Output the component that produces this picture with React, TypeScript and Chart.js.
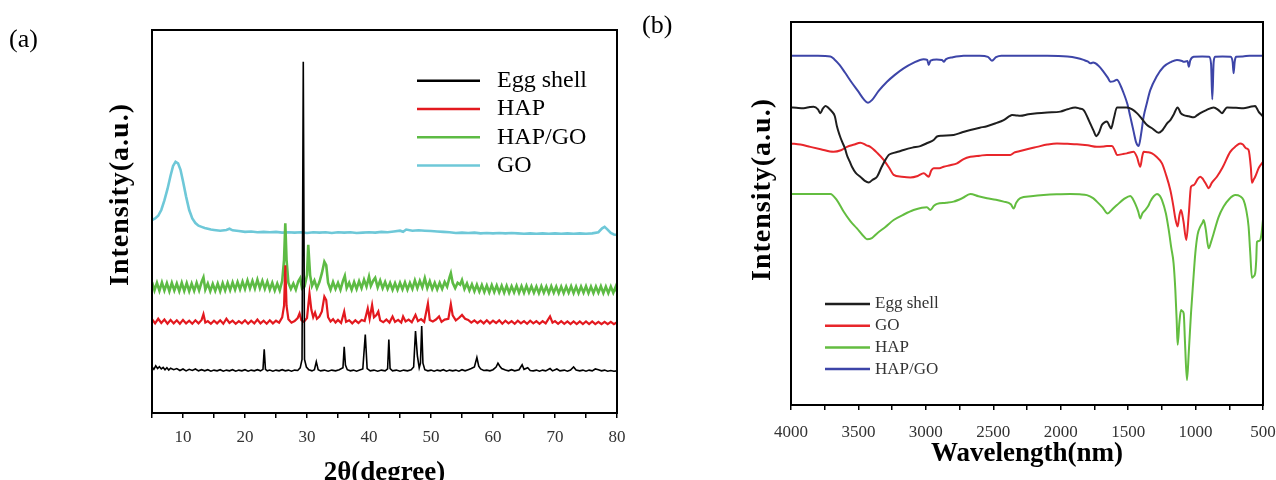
import React, { useEffect, useRef } from 'react';
import { Chart, registerables } from 'chart.js';

Chart.register(...registerables);

type Pt = [number, number];

const SERIF = '"Liberation Serif", "Times New Roman", serif';

// ---------- (a) XRD ----------
const xrdLabels = ['Egg shell', 'HAP', 'HAP/GO', 'GO'];
const xrdColors = ['#000000', '#e3191f', '#5dbb44', '#6ec8d8'];
const xrdTicks = [10, 20, 30, 40, 50, 60, 70, 80];

const xrdEggShell: Pt[] = [
  [5, 12.0], [5.3, 11.4], [5.6, 12.3], [5.9, 11.6], [6.2, 12.1], [6.5, 11.5], [6.8, 11.9], [7.1, 11.3], [7.4, 11.8], [7.7, 11.2],
  [8, 11.7], [8.5, 11.3], [9, 11.6], [9.5, 11.1], [10, 11.5], [10.5, 11.0], [11, 11.4], [11.5, 11.1], [12, 11.5], [12.5, 11.0],
  [13, 11.3], [13.5, 11.0], [14, 11.3], [14.5, 10.9], [15, 11.2], [15.5, 11.0], [16, 11.3], [16.5, 10.9], [17, 11.2], [17.5, 11.0],
  [18, 11.3], [18.5, 10.9], [19, 11.2], [19.5, 11.0], [20, 11.3], [20.5, 10.9], [21, 11.2], [21.5, 11.0], [22, 11.3], [22.5, 11.0],
  [22.9, 11.4], [23.1, 16.6], [23.3, 11.4], [23.6, 11.0], [24, 11.2], [24.5, 10.9], [25, 11.2], [25.5, 11.0], [26, 11.3], [26.5, 11.0],
  [27, 11.2], [27.5, 10.9], [28, 11.2], [28.5, 11.1], [28.9, 11.8], [29.2, 14.0], [29.4, 91.7], [29.6, 14.0], [29.9, 12.0], [30.3, 11.3],
  [30.8, 11.0], [31.2, 11.3], [31.5, 13.4], [31.8, 11.3], [32.2, 11.0], [32.8, 11.2], [33.4, 10.9], [34, 11.2], [34.6, 11.0], [35.2, 11.3],
  [35.8, 11.8], [36.0, 17.3], [36.2, 12.5], [36.5, 11.3], [37, 11.0], [37.5, 11.2], [38, 10.9], [38.5, 11.2], [39.0, 11.5], [39.4, 20.5],
  [39.7, 11.6], [40.2, 11.0], [40.8, 11.2], [41.4, 10.9], [42, 11.2], [42.6, 11.0], [43.0, 11.5], [43.2, 19.2], [43.4, 11.6], [43.8, 11.0],
  [44.4, 11.2], [45, 10.9], [45.6, 11.2], [46.2, 11.0], [46.8, 11.3], [47.2, 12.0], [47.5, 21.4], [47.8, 15.0], [48.1, 11.8], [48.3, 13.0],
  [48.5, 22.7], [48.7, 13.0], [49, 11.3], [49.5, 11.0], [50, 11.2], [50.5, 10.9], [51, 11.2], [51.5, 11.0], [52, 11.3], [52.5, 10.9],
  [53, 11.2], [53.5, 11.0], [54, 11.2], [54.5, 10.9], [55, 11.3], [55.5, 11.0], [56, 11.3], [56.5, 11.6], [57, 12.0], [57.4, 14.5],
  [57.7, 12.2], [58, 11.5], [58.5, 11.1], [59, 11.2], [59.5, 11.0], [60, 11.3], [60.5, 12.0], [60.8, 13.0], [61.1, 12.2], [61.4, 11.6],
  [62, 11.2], [62.5, 11.0], [63, 11.3], [63.5, 11.0], [64.2, 11.3], [64.7, 12.6], [65.0, 11.4], [65.6, 11.8], [66, 11.1], [66.5, 11.0],
  [67, 11.2], [67.5, 10.9], [68, 11.2], [68.5, 11.0], [69.2, 11.6], [69.6, 11.0], [70.3, 11.5], [70.8, 11.0], [71.5, 11.2], [72, 10.9],
  [72.5, 11.2], [73, 12.0], [73.4, 11.2], [74, 11.0], [74.5, 11.2], [75, 10.9], [75.5, 11.2], [76, 11.0], [76.5, 11.5], [77, 11.3],
  [77.5, 11.0], [78, 11.2], [78.5, 10.9], [79, 11.1], [79.5, 10.9], [80, 11.0],
];

const xrdHAP: Pt[] = [
  [5, 24.5], [5.5, 23.4], [6, 24.6], [6.5, 23.5], [7, 24.4], [7.5, 23.3], [8, 24.3], [8.5, 23.4], [9, 24.2], [9.5, 23.3],
  [10, 24.3], [10.5, 23.4], [11, 24.1], [11.5, 23.3], [12, 24.2], [12.5, 23.4], [13, 24.3], [13.3, 25.8], [13.6, 23.6], [14, 24.0],
  [14.5, 23.3], [15, 24.1], [15.5, 23.4], [16, 24.2], [16.5, 23.3], [17, 24.6], [17.5, 23.5], [18, 24.1], [18.5, 23.3], [19, 24.0],
  [19.5, 23.4], [20, 24.2], [20.5, 23.3], [21, 24.1], [21.5, 23.4], [22, 24.4], [22.5, 23.4], [23, 24.1], [23.5, 23.3], [24, 24.2],
  [24.5, 23.4], [25, 24.1], [25.5, 23.6], [26.0, 25.0], [26.3, 28.0], [26.5, 38.6], [26.7, 28.0], [27, 24.5], [27.5, 23.6], [28, 24.0],
  [28.5, 24.8], [28.8, 26.0], [29.1, 24.2], [29.5, 23.8], [30.0, 24.8], [30.4, 31.2], [30.7, 27.0], [31.0, 25.0], [31.3, 26.2], [31.6, 24.6],
  [32.0, 25.2], [32.4, 26.5], [32.8, 30.4], [33.1, 29.5], [33.4, 25.0], [33.8, 23.9], [34.2, 24.5], [34.6, 23.6], [35, 24.3], [35.5, 23.5],
  [36.0, 26.5], [36.3, 23.8], [36.8, 24.2], [37.3, 23.4], [37.8, 24.2], [38.3, 23.5], [38.8, 24.3], [39.3, 24.0], [39.8, 27.3], [40.1, 24.6],
  [40.5, 28.2], [40.8, 25.0], [41.2, 25.6], [41.5, 26.5], [41.8, 24.2], [42.3, 23.7], [42.8, 24.4], [43.3, 23.6], [43.8, 25.2], [44.2, 23.8],
  [44.7, 24.3], [45.2, 23.6], [45.5, 25.2], [45.9, 23.9], [46.4, 24.4], [46.9, 23.7], [47.5, 25.6], [47.9, 24.0], [48.4, 24.5], [48.9, 23.8],
  [49.5, 28.6], [49.8, 24.3], [50.3, 23.9], [50.8, 24.4], [51.3, 25.2], [51.7, 23.8], [52.2, 24.4], [52.8, 24.6], [53.2, 28.4], [53.5, 25.5],
  [54, 24.2], [54.5, 24.8], [55, 25.6], [55.5, 24.6], [56, 24.3], [56.5, 23.6], [57, 24.2], [57.5, 23.5], [58, 24.1], [58.5, 23.4],
  [59, 24.2], [59.5, 23.4], [60, 24.1], [60.5, 23.5], [61, 24.2], [61.5, 23.3], [62, 24.1], [62.5, 23.4], [63, 24.0], [63.5, 23.3],
  [64, 24.1], [64.5, 23.4], [65, 24.0], [65.5, 23.3], [66, 24.1], [66.5, 23.4], [67, 24.0], [67.5, 23.3], [68, 24.0], [68.5, 23.4],
  [69.2, 25.2], [69.6, 23.6], [70, 24.0], [70.5, 23.3], [71, 24.0], [71.5, 23.3], [72, 23.9], [72.5, 23.2], [73, 23.9], [73.5, 23.2],
  [74, 23.9], [74.5, 23.2], [75, 23.9], [75.5, 23.2], [76, 23.9], [76.5, 23.2], [77, 23.8], [77.5, 23.2], [78, 23.8], [78.5, 23.2],
  [79, 23.8], [79.5, 23.2], [80, 23.7],
];

const xrdHAPGO: Pt[] = [
  [5, 34.2], [5.4, 32.0], [5.8, 34.0], [6.2, 31.9], [6.6, 34.1], [7, 32.0], [7.4, 33.9], [7.8, 31.8], [8.2, 34.0], [8.6, 32.0],
  [9, 33.8], [9.4, 31.8], [9.8, 34.0], [10.2, 31.9], [10.6, 33.9], [11, 31.8], [11.4, 33.8], [11.8, 31.9], [12.2, 34.0], [12.6, 32.0],
  [13.0, 34.2], [13.3, 35.4], [13.6, 32.2], [14, 33.8], [14.4, 31.8], [14.8, 33.7], [15.2, 31.9], [15.6, 33.8], [16, 31.8], [16.4, 33.9],
  [16.8, 32.0], [17.2, 34.0], [17.6, 32.1], [18, 34.1], [18.4, 32.2], [18.8, 34.2], [19.2, 32.3], [19.6, 34.3], [20, 32.4], [20.4, 34.6],
  [20.8, 32.5], [21.2, 34.5], [21.6, 32.5], [22, 34.8], [22.4, 32.6], [22.8, 34.5], [23.2, 32.4], [23.6, 34.3], [24, 32.2], [24.4, 34.0],
  [24.8, 32.0], [25.2, 33.8], [25.6, 32.0], [26.0, 34.5], [26.3, 40.0], [26.5, 49.5], [26.7, 40.0], [27.0, 34.0], [27.4, 32.4], [27.8, 33.8],
  [28.2, 32.2], [28.6, 34.4], [28.9, 35.2], [29.2, 32.5], [29.6, 33.0], [30.0, 36.0], [30.2, 43.9], [30.5, 36.0], [30.8, 33.2], [31.2, 34.6],
  [31.6, 32.6], [32.0, 34.2], [32.4, 36.5], [32.8, 39.5], [33.1, 38.6], [33.4, 34.0], [33.8, 32.2], [34.2, 34.2], [34.6, 32.4], [35, 34.0],
  [35.4, 32.2], [35.8, 34.5], [36.1, 35.8], [36.4, 32.6], [36.8, 34.0], [37.2, 32.2], [37.6, 34.2], [38, 32.4], [38.4, 34.4], [38.8, 32.6],
  [39.2, 34.8], [39.6, 33.0], [40.0, 35.6], [40.3, 33.2], [40.7, 34.6], [41.0, 35.3], [41.4, 32.8], [41.8, 34.6], [42.2, 32.6], [42.6, 34.2],
  [43, 32.4], [43.4, 34.0], [43.8, 32.2], [44.2, 33.9], [44.6, 32.2], [45, 34.0], [45.4, 32.3], [45.8, 34.1], [46.2, 32.2], [46.6, 34.0],
  [47, 32.4], [47.4, 34.6], [47.8, 32.6], [48.2, 34.5], [48.6, 32.8], [49.0, 35.2], [49.4, 32.6], [49.8, 34.4], [50.2, 32.4], [50.6, 34.0],
  [51, 32.3], [51.4, 34.0], [51.8, 32.4], [52.2, 34.2], [52.6, 33.0], [53.0, 35.5], [53.2, 36.5], [53.5, 34.0], [53.9, 32.6], [54.3, 34.0],
  [54.7, 33.5], [55.0, 34.7], [55.4, 32.4], [55.8, 33.8], [56.2, 32.0], [56.6, 33.6], [57, 31.8], [57.4, 33.5], [57.8, 31.7], [58.2, 33.4],
  [58.6, 31.6], [59, 33.3], [59.4, 31.5], [59.8, 33.4], [60.2, 31.6], [60.6, 33.3], [61, 31.5], [61.4, 33.2], [61.8, 31.4], [62.2, 33.2],
  [62.6, 31.4], [63, 33.1], [63.4, 31.5], [63.8, 33.2], [64.2, 31.4], [64.6, 33.1], [65, 31.4], [65.4, 33.2], [65.8, 31.5], [66.2, 33.1],
  [66.6, 31.4], [67, 33.0], [67.4, 31.3], [67.8, 33.1], [68.2, 31.4], [68.6, 33.0], [69, 31.3], [69.4, 33.1], [69.8, 31.4], [70.2, 33.0],
  [70.6, 31.3], [71, 33.0], [71.4, 31.3], [71.8, 33.0], [72.2, 31.4], [72.6, 33.1], [73, 31.3], [73.4, 33.0], [73.8, 31.3], [74.2, 33.0],
  [74.6, 31.4], [75, 33.1], [75.4, 31.3], [75.8, 33.0], [76.2, 31.3], [76.6, 33.0], [77, 31.4], [77.4, 33.1], [77.8, 31.3], [78.2, 33.0],
  [78.6, 31.3], [79, 33.0], [79.4, 31.4], [79.8, 33.0], [80, 31.6],
];

const xrdGO: Pt[] = [
  [5, 50.4], [5.5, 50.8], [6, 51.5], [6.5, 53.0], [7, 55.5], [7.5, 58.5], [8, 62.0], [8.4, 64.5], [8.8, 65.6], [9.2, 65.2],
  [9.6, 63.5], [10, 60.5], [10.5, 56.5], [11, 53.0], [11.5, 50.8], [12, 49.6], [12.5, 48.9], [13, 48.6], [13.5, 48.3], [14, 48.1],
  [14.5, 47.9], [15, 47.8], [16, 47.6], [17, 47.8], [17.5, 48.1], [18, 47.7], [19, 47.5], [20, 47.3], [21, 47.4], [22, 47.2],
  [23, 47.3], [24, 47.2], [25, 47.3], [26, 47.1], [27, 47.2], [28, 47.1], [29, 47.2], [30, 47.0], [31, 47.2], [32, 47.1],
  [33, 47.2], [34, 47.0], [35, 47.2], [36, 47.1], [37, 47.2], [38, 47.0], [39, 47.1], [40, 47.2], [41, 47.1], [42, 47.3],
  [43, 47.2], [44, 47.4], [45, 47.6], [45.5, 47.3], [46, 47.9], [47, 47.6], [48, 47.7], [49, 47.6], [50, 47.5], [51, 47.4],
  [52, 47.3], [53, 47.2], [54, 47.0], [55, 47.1], [56, 47.0], [57, 47.1], [58, 46.9], [59, 47.0], [60, 46.9], [61, 47.0],
  [62, 46.9], [63, 47.0], [64, 46.9], [65, 46.8], [66, 46.9], [67, 46.8], [68, 46.9], [69, 46.8], [70, 46.9], [71, 46.8],
  [72, 46.9], [73, 46.8], [74, 46.9], [75, 46.8], [76, 46.9], [77, 47.2], [77.6, 48.2], [78, 48.6], [78.4, 48.0], [79, 47.0],
  [79.5, 46.6], [80, 46.5],
];

// ---------- (b) FTIR ----------
const ftirLabels = ['Egg shell', 'GO', 'HAP', 'HAP/GO'];
const ftirColors = ['#1e1e1e', '#e8262b', '#63bd40', '#3d45a8'];
const ftirTicks = [4000, 3500, 3000, 2500, 2000, 1500, 1000, 500];

const ftirEggShell: Pt[] = [
  [4000, 77.7], [3960, 77.6], [3906, 77.5], [3860, 77.8], [3832, 77.9], [3800, 77.2], [3783, 76.2], [3765, 77.3], [3745, 78.1], [3720, 77.5],
  [3696, 76.6], [3675, 75.4], [3659, 72.7], [3640, 70.5], [3622, 68.8], [3600, 67.0], [3585, 65.2], [3565, 63.6], [3548, 62.2], [3520, 60.6],
  [3486, 59.6], [3455, 58.6], [3424, 58.1], [3395, 58.8], [3362, 59.6], [3330, 62.0], [3300, 64.0], [3275, 65.3], [3251, 65.7], [3200, 66.2],
  [3165, 66.6], [3100, 67.2], [3041, 67.6], [2990, 68.4], [2942, 69.2], [2917, 70.1], [2880, 70.3], [2794, 70.5], [2730, 71.2], [2670, 71.8],
  [2600, 72.4], [2547, 72.8], [2480, 73.6], [2423, 74.4], [2380, 75.4], [2361, 75.7], [2330, 75.6], [2300, 75.5], [2240, 75.9], [2176, 76.2],
  [2100, 76.4], [2003, 76.6], [1950, 77.2], [1892, 77.7], [1860, 77.4], [1830, 77.0], [1800, 75.0], [1781, 73.5], [1755, 71.5], [1737, 70.2],
  [1715, 71.2], [1695, 73.1], [1675, 73.8], [1657, 74.0], [1640, 73.0], [1627, 72.2], [1605, 75.0], [1583, 77.7], [1509, 77.7], [1470, 77.2],
  [1435, 76.2], [1400, 74.8], [1360, 73.1], [1320, 72.2], [1274, 71.1], [1250, 71.6], [1237, 72.2], [1210, 73.6], [1187, 74.4], [1160, 76.0],
  [1133, 77.7], [1110, 76.2], [1088, 75.7], [1050, 75.4], [1014, 75.1], [990, 75.6], [965, 76.2], [920, 77.0], [866, 77.7], [830, 77.0],
  [804, 76.2], [785, 77.0], [767, 77.7], [700, 77.6], [644, 77.5], [600, 77.8], [558, 78.1], [545, 77.4], [533, 76.6], [515, 75.9],
  [500, 75.3],
];

const ftirGO: Pt[] = [
  [4000, 68.3], [3930, 68.0], [3857, 67.4], [3780, 66.8], [3684, 66.1], [3630, 66.5], [3585, 67.4], [3530, 68.0], [3486, 68.5], [3440, 67.8],
  [3412, 67.4], [3360, 65.8], [3313, 64.0], [3270, 61.8], [3239, 60.1], [3180, 59.6], [3115, 59.4], [3060, 59.8], [3016, 60.5], [2979, 59.6],
  [2960, 61.2], [2942, 61.8], [2900, 61.8], [2868, 62.2], [2820, 62.6], [2769, 63.1], [2720, 64.2], [2670, 64.8], [2600, 65.1], [2547, 65.3],
  [2460, 65.3], [2374, 65.3], [2345, 65.9], [2324, 66.1], [2250, 66.8], [2176, 67.4], [2100, 68.0], [2028, 68.3], [1950, 68.2], [1880, 68.1],
  [1800, 67.8], [1732, 67.4], [1680, 67.5], [1657, 67.6], [1620, 67.6], [1600, 66.6], [1583, 65.3], [1540, 65.5], [1509, 65.7], [1480, 66.0],
  [1460, 66.1], [1435, 64.8], [1410, 62.2], [1395, 65.0], [1385, 66.1], [1355, 66.0], [1323, 65.7], [1290, 64.8], [1249, 63.1], [1220, 60.2],
  [1187, 56.1], [1165, 52.0], [1150, 48.7], [1133, 46.6], [1120, 49.5], [1108, 50.9], [1090, 48.0], [1069, 43.1], [1050, 50.0], [1034, 57.0],
  [1015, 57.4], [1002, 57.9], [985, 59.0], [965, 59.6], [950, 59.2], [940, 58.7], [920, 57.5], [903, 56.6], [880, 58.0], [842, 59.6],
  [800, 62.0], [743, 66.1], [700, 67.6], [670, 68.3], [649, 68.0], [625, 67.0], [607, 66.6], [590, 62.0], [582, 58.0], [570, 58.8],
  [558, 59.6], [530, 62.0], [500, 63.5],
];

const ftirHAP: Pt[] = [
  [4000, 55.1], [3900, 55.1], [3800, 55.1], [3708, 55.1], [3660, 53.5], [3610, 50.5], [3560, 48.0], [3511, 46.1], [3470, 44.4], [3437, 43.3],
  [3400, 43.6], [3362, 44.8], [3300, 46.5], [3239, 48.3], [3160, 49.8], [3091, 50.9], [3030, 51.5], [2992, 51.6], [2967, 50.9], [2940, 52.0],
  [2917, 52.5], [2850, 52.8], [2794, 53.1], [2730, 54.0], [2670, 55.1], [2610, 54.5], [2547, 54.0], [2480, 53.6], [2423, 53.1], [2370, 52.4],
  [2349, 51.3], [2330, 52.8], [2300, 54.0], [2220, 54.5], [2127, 54.8], [2030, 55.0], [1930, 55.1], [1860, 55.0], [1806, 54.8], [1760, 54.0],
  [1732, 53.1], [1690, 51.6], [1652, 50.0], [1620, 51.0], [1583, 52.2], [1530, 53.8], [1484, 54.6], [1465, 53.8], [1447, 52.5], [1425, 50.5],
  [1410, 48.7], [1395, 50.0], [1373, 50.9], [1350, 52.0], [1336, 53.1], [1310, 54.5], [1286, 55.1], [1265, 54.6], [1249, 53.5], [1220, 50.0],
  [1199, 45.7], [1180, 41.0], [1163, 37.0], [1150, 30.0], [1140, 22.0], [1133, 15.7], [1120, 21.5], [1108, 24.8], [1098, 24.5], [1088, 23.9],
  [1078, 16.0], [1064, 6.5], [1050, 14.0], [1034, 23.9], [1018, 32.0], [1002, 39.6], [985, 44.5], [965, 46.6], [950, 47.5], [940, 48.3],
  [925, 46.0], [903, 40.9], [885, 42.6], [866, 44.8], [830, 49.0], [792, 51.8], [750, 53.8], [705, 54.8], [670, 54.5], [644, 53.5],
  [625, 51.0], [607, 46.6], [595, 40.0], [582, 33.2], [570, 33.6], [558, 34.4], [550, 38.0], [545, 42.6], [530, 42.8], [520, 43.1],
  [510, 45.0], [500, 48.5],
];

const ftirHAPGO: Pt[] = [
  [4000, 91.2], [3900, 91.2], [3800, 91.2], [3708, 91.0], [3680, 90.3], [3640, 88.8], [3600, 86.8], [3550, 84.2], [3500, 81.8], [3460, 79.8],
  [3429, 78.9], [3400, 79.6], [3350, 82.0], [3288, 84.4], [3230, 86.2], [3165, 87.9], [3100, 89.2], [3016, 90.3], [2990, 90.1], [2979, 88.8],
  [2965, 89.9], [2920, 90.2], [2880, 90.1], [2868, 89.6], [2850, 90.3], [2800, 90.8], [2720, 91.2], [2600, 91.2], [2540, 90.9], [2510, 89.9],
  [2480, 90.8], [2440, 91.2], [2300, 91.2], [2100, 91.2], [1950, 91.0], [1880, 90.6], [1830, 90.1], [1800, 89.7], [1780, 89.2], [1760, 89.4],
  [1720, 88.6], [1682, 87.0], [1650, 85.4], [1632, 84.4], [1610, 84.5], [1583, 84.9], [1555, 83.3], [1533, 81.4], [1505, 78.5], [1484, 75.3],
  [1460, 71.5], [1440, 68.5], [1422, 67.6], [1405, 70.5], [1385, 75.3], [1360, 79.0], [1336, 82.2], [1290, 85.7], [1237, 88.3], [1180, 89.6],
  [1138, 90.1], [1100, 89.8], [1088, 89.6], [1060, 89.8], [1050, 88.3], [1040, 89.9], [1014, 90.9], [950, 91.0], [900, 90.9], [885, 89.0],
  [876, 79.8], [866, 89.5], [855, 90.9], [800, 91.0], [740, 90.9], [725, 89.5], [718, 86.6], [710, 89.6], [700, 90.9], [650, 91.0],
  [600, 91.2], [550, 91.2], [500, 91.2],
];

const toXY = (pts: Pt[]) => pts.map(([x, y]) => ({ x, y }));

interface DecorCfg {
  tag: { text: string; x: number; y: number; size: number };
  yTitle: { x: number; y: number; size: number; spacing: number };
  legend: { x0: number; x1: number; tx: number; y: number; dy: number; size: number; lw: number; color: string };
}

function decorPlugin(cfg: DecorCfg) {
  return {
    id: 'panelDecor',
    afterDatasetsDraw(chart: any) {
      const { ctx, chartArea: a } = chart;
      ctx.save();
      ctx.strokeStyle = '#000';
      ctx.lineWidth = 2;
      ctx.strokeRect(a.left, a.top, a.right - a.left, a.bottom - a.top);

      const L = cfg.legend;
      chart.data.datasets.forEach((ds: any, i: number) => {
        const y = L.y + i * L.dy;
        ctx.strokeStyle = ds.borderColor;
        ctx.lineWidth = L.lw;
        ctx.beginPath();
        ctx.moveTo(L.x0, y);
        ctx.lineTo(L.x1, y);
        ctx.stroke();
        ctx.fillStyle = L.color;
        ctx.font = `${L.size}px ${SERIF}`;
        ctx.textBaseline = 'middle';
        ctx.textAlign = 'left';
        ctx.fillText(ds.label, L.tx, y);
      });

      ctx.fillStyle = '#000';
      ctx.font = `${cfg.tag.size}px ${SERIF}`;
      ctx.textBaseline = 'alphabetic';
      ctx.textAlign = 'left';
      ctx.fillText(cfg.tag.text, cfg.tag.x, cfg.tag.y);

      ctx.translate(cfg.yTitle.x, cfg.yTitle.y);
      ctx.rotate(-Math.PI / 2);
      ctx.font = `bold ${cfg.yTitle.size}px ${SERIF}`;
      try { (ctx as any).letterSpacing = `${cfg.yTitle.spacing}px`; } catch (e) { /* ignore */ }
      ctx.textAlign = 'center';
      ctx.textBaseline = 'middle';
      ctx.fillText('Intensity(a.u.)', cfg.yTitle.spacing / 2, 0);
      ctx.restore();
    },
  };
}

function xAxis(opts: {
  min: number; max: number; step: number; reverse: boolean; labels: number[];
  height: number; tickPad: number; title: string; titlePad: number;
}) {
  return {
    type: 'linear' as const,
    min: opts.min,
    max: opts.max,
    reverse: opts.reverse,
    afterFit: (s: any) => { s.height = opts.height; s.paddingLeft = 0; s.paddingRight = 0; },
    ticks: {
      stepSize: opts.step,
      autoSkip: false,
      maxRotation: 0,
      minRotation: 0,
      padding: opts.tickPad,
      color: '#333',
      font: { family: SERIF, size: 17 },
      callback: (v: any) => (opts.labels.includes(Number(v)) ? String(v) : ''),
    },
    grid: { display: true, drawOnChartArea: false, drawTicks: true, tickLength: 5, color: '#000', lineWidth: 1.5 },
    border: { display: false },
    title: {
      display: true,
      text: opts.title,
      color: '#000',
      font: { family: SERIF, size: 27, weight: 'bold' as const },
      padding: { top: 0, bottom: opts.titlePad },
    },
  };
}

function useChart(ref: React.RefObject<HTMLCanvasElement>, build: () => any) {
  useEffect(() => {
    if (!ref.current) return;
    const chart = new Chart(ref.current, build());
    return () => chart.destroy();
  }, []);
}

export default function App() {
  const refA = useRef<HTMLCanvasElement>(null);
  const refB = useRef<HTMLCanvasElement>(null);

  useChart(refA, () => ({
    type: 'line',
    data: {
      datasets: [xrdEggShell, xrdHAP, xrdHAPGO, xrdGO].map((d, i) => ({
        label: xrdLabels[i],
        data: toXY(d),
        borderColor: xrdColors[i],
        borderWidth: [1.6, 2.2, 2.6, 2.6][i],
        pointRadius: 0,
        tension: 0,
        fill: false,
      })),
    },
    options: {
      responsive: false,
      animation: false,
      layout: { padding: { left: 152, right: 23, top: 30, bottom: 0 } },
      plugins: { legend: { display: false }, tooltip: { enabled: false } },
      scales: {
        x: xAxis({ min: 5, max: 80, step: 5, reverse: false, labels: xrdTicks, height: 67, tickPad: 9, title: '2θ(degree)', titlePad: -9 }),
        y: { type: 'linear', min: 0, max: 100, display: false },
      },
    },
    plugins: [decorPlugin({
      tag: { text: '(a)', x: 9, y: 47, size: 26 },
      yTitle: { x: 121, y: 195, size: 28, spacing: 1 },
      legend: { x0: 417, x1: 480, tx: 497, y: 80.7, dy: 28.3, size: 24, lw: 2.5, color: '#000' },
    })],
  }));

  useChart(refB, () => ({
    type: 'line',
    data: {
      datasets: [ftirEggShell, ftirGO, ftirHAP, ftirHAPGO].map((d, i) => ({
        label: ftirLabels[i],
        data: toXY(d),
        borderColor: ftirColors[i],
        borderWidth: 2,
        pointRadius: 0,
        cubicInterpolationMode: 'monotone',
        fill: false,
      })),
    },
    options: {
      responsive: false,
      animation: false,
      layout: { padding: { left: 151, right: 13, top: 22, bottom: 0 } },
      plugins: { legend: { display: false }, tooltip: { enabled: false } },
      scales: {
        x: xAxis({ min: 500, max: 4000, step: 250, reverse: true, labels: ftirTicks, height: 75, tickPad: 12, title: 'Wavelength(nm)', titlePad: 10 }),
        y: { type: 'linear', min: 0, max: 100, display: false },
      },
    },
    plugins: [decorPlugin({
      tag: { text: '(b)', x: 2, y: 33, size: 26 },
      yTitle: { x: 123, y: 190, size: 28, spacing: 1 },
      legend: { x0: 185, x1: 230, tx: 235, y: 304, dy: 21.7, size: 17, lw: 2.5, color: '#333' },
    })],
  }));

  return (
    <div style={{ position: 'absolute', left: 0, top: 0, width: 1276, height: 480, overflow: 'hidden', background: '#fff' }}>
      <canvas ref={refA} width={640} height={480} style={{ position: 'absolute', left: 0, top: 0 }} />
      <canvas ref={refB} width={636} height={480} style={{ position: 'absolute', left: 640, top: 0 }} />
    </div>
  );
}
